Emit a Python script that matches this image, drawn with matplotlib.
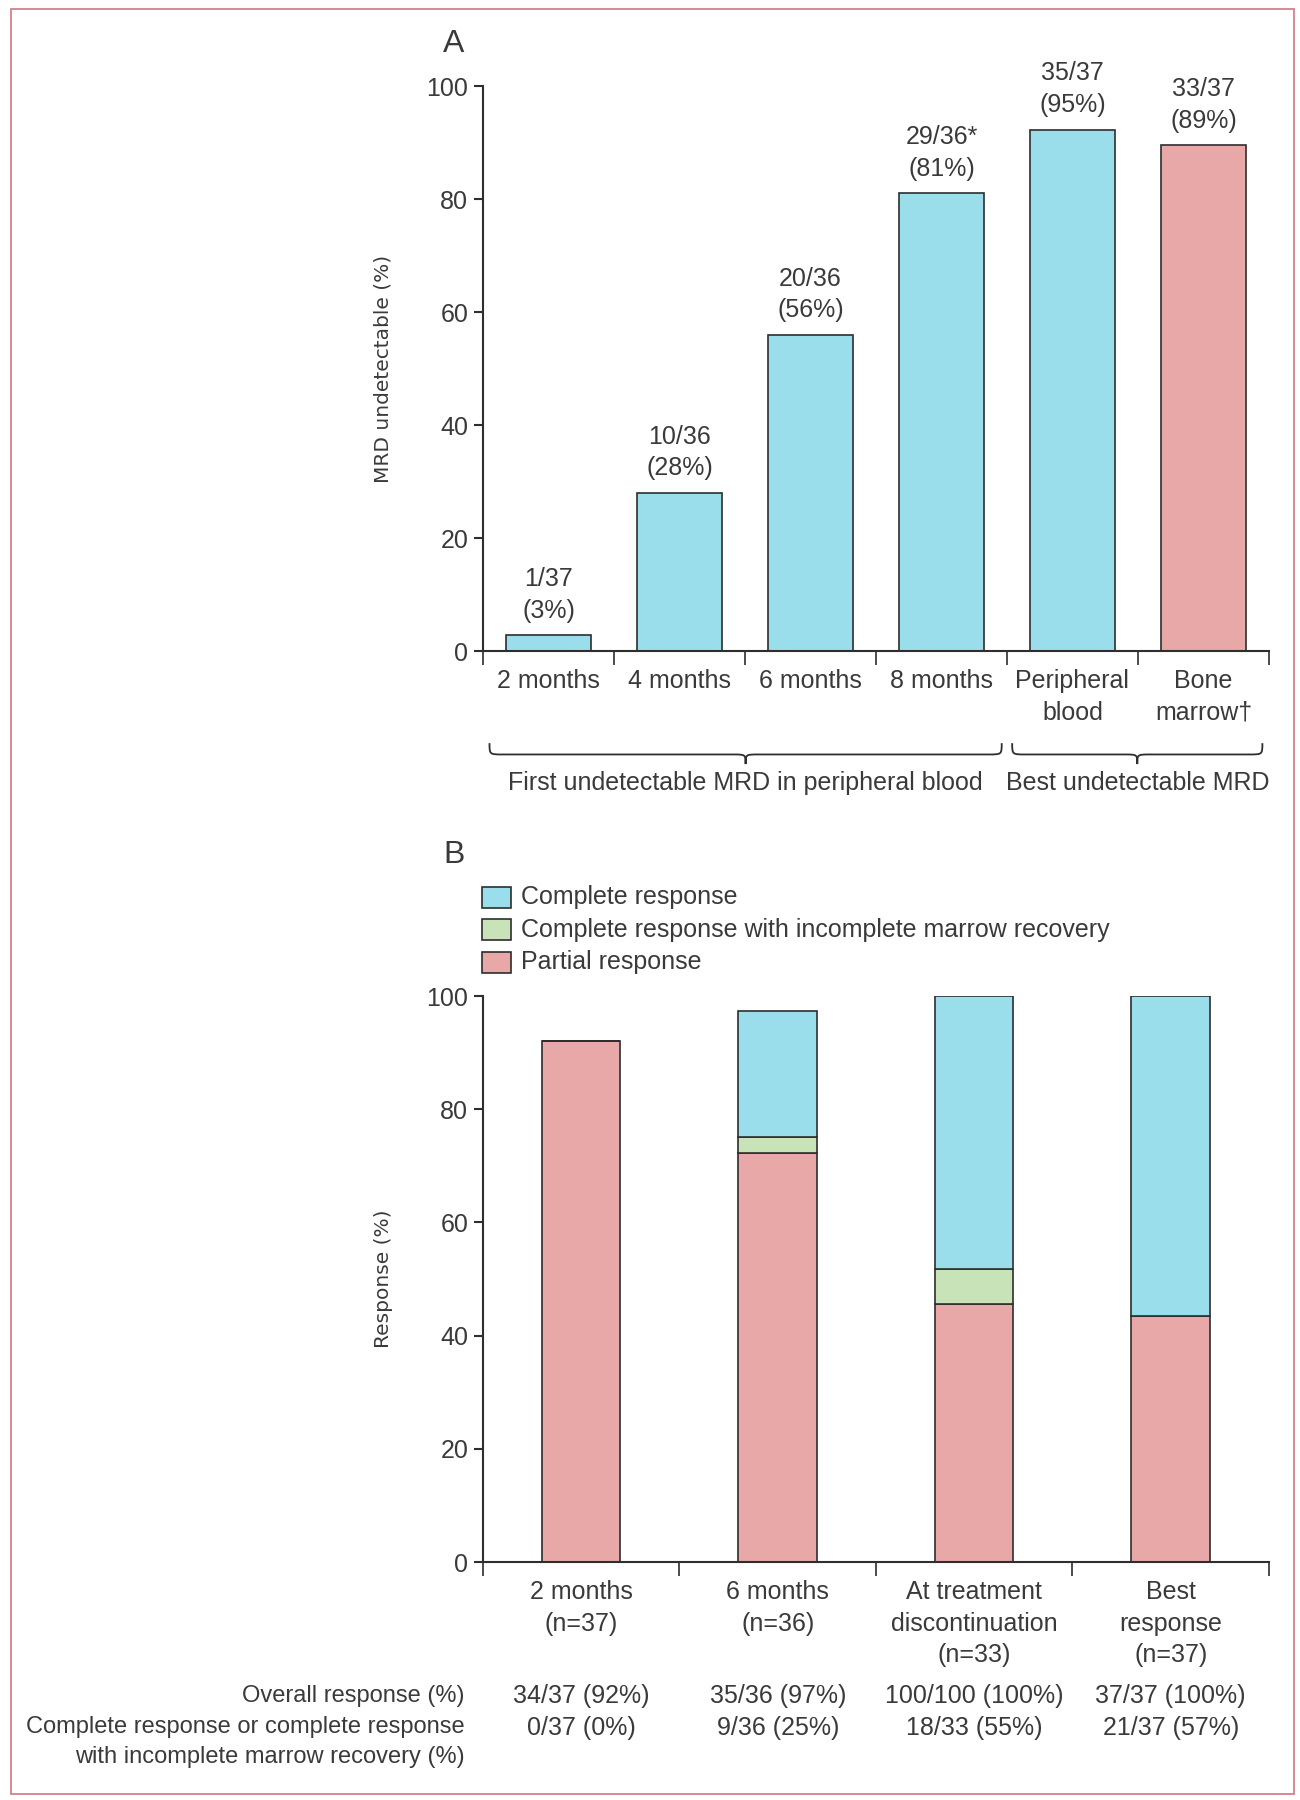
import numpy as np
import matplotlib
matplotlib.use('Agg')
import matplotlib.pyplot as plt
from matplotlib.patches import Rectangle, PathPatch
from matplotlib.path import Path

# Panel A data
a_labels = ['2 months', '4 months', '6 months', '8 months', 'Peripheral\nblood', 'Bone\nmarrow\u2020']
a_values = [2.8, 28, 56, 81, 92.3, 89.5]
a_text = ['1/37\n(3%)', '10/36\n(28%)', '20/36\n(56%)', '29/36*\n(81%)', '35/37\n(95%)', '33/37\n(89%)']
a_colors = ['#9bdeeb', '#9bdeeb', '#9bdeeb', '#9bdeeb', '#9bdeeb', '#e8a8a8']
a_groups = ['First undetectable MRD in peripheral blood', 'Best undetectable MRD']

# Panel B data
b_labels = ['2 months\n(n=37)', '6 months\n(n=36)', 'At treatment\ndiscontinuation\n(n=33)', 'Best\nresponse\n(n=37)']
b_partial = [92, 72.2, 45.6, 43.4]
b_cri = [0, 2.9, 6.1, 0]
b_cr = [0, 22.3, 48.3, 56.6]
b_overall = ['34/37 (92%)', '35/36 (97%)', '100/100 (100%)', '37/37 (100%)']
b_complete = ['0/37 (0%)', '9/36 (25%)', '18/33 (55%)', '21/37 (57%)']
b_rows = ['Overall response (%)', 'Complete response or complete response\nwith incomplete marrow recovery (%)']
legend_names = ['Complete response', 'Complete response with incomplete marrow recovery', 'Partial response']

blue = '#9bdeeb'
green = '#c8e3b8'
pink = '#e8a8a8'
edge = '#2e2e2e'
txt = '#3a3a3a'

plt.rcParams['font.family'] = ['Liberation Sans', 'DejaVu Sans']
plt.rcParams['font.size'] = 18
plt.rcParams['text.color'] = txt
plt.rcParams['axes.edgecolor'] = edge
plt.rcParams['xtick.color'] = edge
plt.rcParams['ytick.color'] = edge
plt.rcParams['xtick.labelcolor'] = txt
plt.rcParams['ytick.labelcolor'] = txt

LS = 1.4

fig = plt.figure(figsize=(13, 18), dpi=100)

# рамка навколо
fig.patches.append(Rectangle((0.0085, 0.0033), 0.987, 0.9917, transform=fig.transFigure,
                             fill=False, edgecolor='#d77f8d', linewidth=1.3))


def style_axes(ax, n):
    for s in ['top', 'right']:
        ax.spines[s].set_visible(False)
    ax.spines['left'].set_linewidth(1.5)
    ax.spines['bottom'].set_linewidth(1.5)
    ax.set_xlim(0, n)
    ax.set_ylim(0, 100)
    ax.set_yticks(range(0, 101, 20))
    ax.tick_params(axis='y', length=6.5, width=1.5, pad=4)
    ax.set_xticks(range(n + 1))
    ax.set_xticklabels([])
    ax.tick_params(axis='x', which='major', length=10, width=1.2)
    ax.set_xticks(np.arange(n) + 0.5, minor=True)
    ax.tick_params(axis='x', which='minor', length=0, pad=13)


def brace(ax, x0, x1, yt, ym, yp, r=0.1):
    xm = (x0 + x1) / 2
    verts = [(x0, yt), (x0, ym), (x0, ym), (x0 + r, ym),
             (xm - r, ym),
             (xm, ym), (xm, ym), (xm, yp),
             (xm, ym), (xm, ym), (xm + r, ym),
             (x1 - r, ym),
             (x1, ym), (x1, ym), (x1, yt)]
    codes = [Path.MOVETO, Path.CURVE4, Path.CURVE4, Path.CURVE4,
             Path.LINETO,
             Path.CURVE4, Path.CURVE4, Path.CURVE4,
             Path.CURVE4, Path.CURVE4, Path.CURVE4,
             Path.LINETO,
             Path.CURVE4, Path.CURVE4, Path.CURVE4]
    ax.add_patch(PathPatch(Path(verts, codes), fill=False, edgecolor=edge, linewidth=1.3, clip_on=False))


# Панель A
ax1 = fig.add_axes([0.3715, 0.6383, 0.6046, 0.3139])
style_axes(ax1, 6)
xa = np.arange(6) + 0.5
bars = ax1.bar(xa, a_values, width=0.65, color=a_colors, edgecolor=edge, linewidth=1.2)
for b, t in zip(bars, a_text):
    ax1.annotate(t, (b.get_x() + b.get_width() / 2, b.get_height()), xytext=(0, 9),
                 textcoords='offset points', ha='center', va='bottom', linespacing=LS)
ax1.set_xticklabels(a_labels, minor=True, linespacing=LS, va='top')
ax1.set_ylabel('MRD undetectable (%)', family='DejaVu Sans', fontsize=14.5, color=txt)
ax1.yaxis.set_label_coords(-0.1145, 0.5)
ax1.text(-0.037, 1.074, 'A', transform=ax1.transAxes, fontsize=23, ha='center', va='center')

brace(ax1, 0.05, 3.96, -16.3, -18.3, -20.0)
brace(ax1, 4.04, 5.95, -16.3, -18.3, -20.0)
ax1.text(2.0, -23.4, a_groups[0], ha='center', va='center')
ax1.text(4.995, -23.4, a_groups[1], ha='center', va='center')

# Панель B
ax2 = fig.add_axes([0.3715, 0.1322, 0.6046, 0.3144])
style_axes(ax2, 4)
xb = np.arange(4) + 0.5
ax2.bar(xb, b_partial, width=0.4, color=pink, edgecolor=edge, linewidth=1.2)
ax2.bar(xb, b_cri, width=0.4, bottom=b_partial, color=green, edgecolor=edge, linewidth=1.2)
bottom2 = np.array(b_partial) + np.array(b_cri)
ax2.bar(xb, b_cr, width=0.4, bottom=bottom2, color=blue, edgecolor=edge, linewidth=1.2)
ax2.set_xticklabels(b_labels, minor=True, linespacing=LS, va='top')
ax2.set_ylabel('Response (%)', family='DejaVu Sans', fontsize=14.5, color=txt)
ax2.yaxis.set_label_coords(-0.1145, 0.5)
ax2.text(-0.037, 1.249, 'B', transform=ax2.transAxes, fontsize=23, ha='center', va='center')

# легенда
leg_y = [1.175, 1.117, 1.060]
for c, name, y in zip([blue, green, pink], legend_names, leg_y):
    ax2.add_patch(Rectangle((-0.001, y - 0.0185), 0.037, 0.037, transform=ax2.transAxes,
                            facecolor=c, edgecolor=edge, linewidth=1.2, clip_on=False))
    ax2.text(0.048, y, name, transform=ax2.transAxes, ha='left', va='center')

# таблиця під графіком
ax2.text(-0.092, -23.7, b_rows[0], ha='right', va='center', fontsize=17)
ax2.text(-0.092, -27.2, b_rows[1], ha='right', va='top', linespacing=1.45, fontsize=17)
for x, o, c in zip(xb, b_overall, b_complete):
    ax2.text(x, -23.7, o, ha='center', va='center')
    ax2.text(x, -29.3, c, ha='center', va='center')

fig.savefig('out.png', dpi=100)
